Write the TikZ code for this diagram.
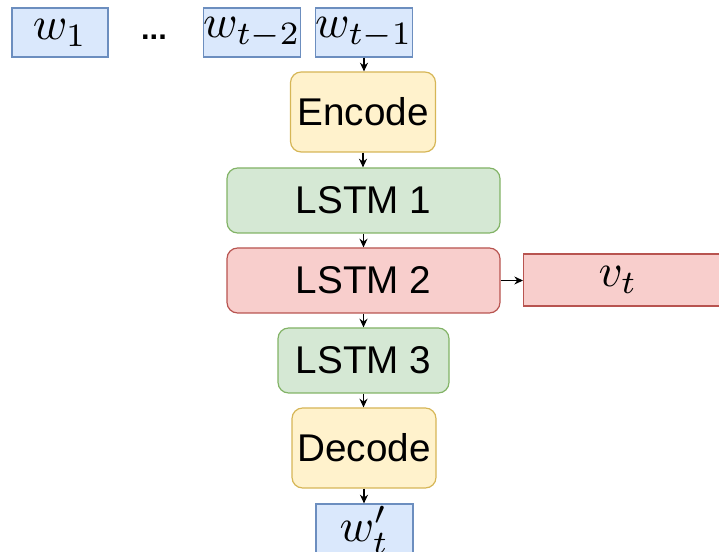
\RequirePackage{fix-cm}
\documentclass[tikz,border=0pt]{standalone}
\usepackage{graphicx}
\usepackage{fontspec}
\setmainfont{Liberation Sans}
\usetikzlibrary{arrows.meta}
\definecolor{bluefill}{HTML}{DAE8FC}
\definecolor{bluedraw}{HTML}{6C8EBF}
\definecolor{yelfill}{HTML}{FFF2CC}
\definecolor{yeldraw}{HTML}{D6B656}
\definecolor{grnfill}{HTML}{D5E8D4}
\definecolor{grndraw}{HTML}{82B366}
\definecolor{redfill}{HTML}{F8CECC}
\definecolor{reddraw}{HTML}{B85450}
\newcommand{\largemath}[1]{\scalebox{3.5}{\fontsize{10}{12}\selectfont$#1$}}
\tikzset{
  base/.style={inner sep=0pt, line width=0.9pt, font=\fontsize{29}{32}\selectfont},
  wordbox/.style={base, rectangle, fill=bluefill, draw=bluedraw},
  codebox/.style={base, rectangle, rounded corners=8pt, fill=yelfill, draw=yeldraw},
  lstmg/.style={base, rectangle, rounded corners=8pt, fill=grnfill, draw=grndraw},
  lstmr/.style={base, rectangle, rounded corners=8pt, fill=redfill, draw=reddraw},
  outbox/.style={base, rectangle, fill=redfill, draw=reddraw},
  conn/.style={-{Stealth[length=6.5pt,width=6pt]}, line width=0.8pt, black}
}
\begin{document}
\begin{tikzpicture}[x=0.75pt,y=-0.75pt]
\useasboundingbox (0,0) rectangle (719,552);
\clip (0,0) rectangle (719,552);
\node[wordbox, minimum width=72pt, minimum height=36.75pt] (w1) at (60,32.5) {\largemath{w_1}};
\node[font=\bfseries\fontsize{23}{26}\selectfont, inner sep=0pt] (dots) at (154,37) {...};
\node[wordbox, minimum width=72pt, minimum height=36.75pt] (wt2) at (252,32.5) {\largemath{w_{t-2}}};
\node[wordbox, minimum width=72pt, minimum height=36.75pt] (wt1) at (364,32.5) {\largemath{w_{t-1}}};
\node[codebox, minimum width=108.75pt, minimum height=60pt] (enc) at (363,112) {Encode};
\node[lstmg, minimum width=204.75pt, minimum height=48.75pt] (l1) at (363.5,200.5) {LSTM 1};
\node[lstmr, minimum width=204.75pt, minimum height=48.75pt] (l2) at (363.5,280.5) {LSTM 2};
\node[outbox, minimum width=177.75pt, minimum height=39pt, anchor=west] (vt) at (523,280) {\hspace*{-36pt}\largemath{v_t}};
\node[lstmg, minimum width=128.25pt, minimum height=48.75pt] (l3) at (363.5,360.5) {LSTM 3};
\node[codebox, minimum width=108pt, minimum height=60pt] (dec) at (364,448) {Decode};
\node[wordbox, minimum width=72.75pt, minimum height=39pt] (wout) at (364.5,530) {\largemath{w'_t}};
\draw[conn] (wt1.south) -- (wt1.south |- enc.north);
\draw[conn] (enc.south) -- (enc.south |- l1.north);
\draw[conn] (l1.south) -- (l1.south |- l2.north);
\draw[conn] (l2.south) -- (l2.south |- l3.north);
\draw[conn] (l3.south) -- (l3.south |- dec.north);
\draw[conn] (dec.south) -- (dec.south |- wout.north);
\draw[conn] (l2.east) -- (l2.east -| vt.west);
\end{tikzpicture}
\end{document}
